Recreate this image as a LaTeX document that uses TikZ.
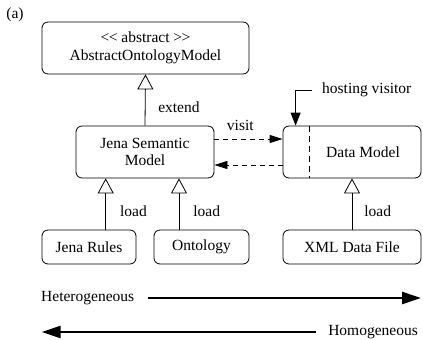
\documentclass[tikz,border=0pt]{standalone}
\usepackage{fontspec}
\setmainfont{Liberation Serif}
\usetikzlibrary{arrows.meta}

\begin{document}
\begin{tikzpicture}[
                x=1pt, y=-1pt,
                every node/.style={font=\fontsize{15.5}{17.7}\selectfont, inner sep=0pt},
                box/.style={draw, rounded corners=6pt, line width=0.8pt, align=center},
                inherit/.style={line width=0.8pt, -{Triangle[open, length=15pt, width=16pt]}},
                call/.style={line width=0.8pt, dash pattern=on 5pt off 4pt, -{Triangle[length=13pt, width=8pt]}},
                host/.style={line width=0.8pt, -{Triangle[length=13pt, width=10pt]}},
                trend/.style={line width=2.6pt, -{Triangle[length=19pt, width=12pt]}}
            ]

            \useasboundingbox (0,0) rectangle (423,340);

            \node (tag) at (15,15) {(a)};

            \node[box, minimum width=207pt, minimum height=52pt] (abstract) at (145.5,48)
                {<\kern-0.5pt< abstract >\kern-0.5pt>\\AbstractOntologyModel};
            \node[box, minimum width=138pt, minimum height=52pt] (jena) at (145,152) {Jena Semantic\\Model};
            \node[box, minimum width=138pt, minimum height=52pt] (data) at (352,152) {};
            \node (datatext) at (363,152) {Data Model};
            \node[box, minimum width=94pt, minimum height=34pt] (rules) at (89,247) {Jena Rules};
            \node[box, minimum width=95pt, minimum height=34pt] (onto) at (201.5,247) {Ontology};
            \node[box, minimum width=138pt, minimum height=34pt] (xml) at (352,247) {XML Data File};

            \coordinate (split) at (309,0);
            \coordinate (rulesx) at (105.7,0);
            \coordinate (ontox) at (179,0);

            \draw[inherit] (jena.north) -- (abstract.south)
                node[pos=0.36, right=12.7pt] {extend};
            \draw[inherit] (rules.north -| rulesx) -- (jena.south -| rulesx)
                node[pos=0.35, right=14pt] {load};
            \draw[inherit] (onto.north -| ontox) -- (jena.south -| ontox)
                node[pos=0.35, right=14pt] {load};
            \draw[inherit] (xml.north) -- (data.south)
                node[pos=0.35, right=12pt] {load};

            \draw[call] ([yshift=13pt]jena.east) -- ([yshift=13pt]data.west)
                node[pos=0.38, above=8pt] {visit};
            \draw[call] ([yshift=-13pt]data.west) -- ([yshift=-13pt]jena.east);

            \draw[line width=0.8pt, dash pattern=on 6pt off 4pt] (data.north -| split) -- (data.south -| split);

            \node[anchor=west] (hosting) at (322,90) {hosting visitor};
            \draw[host] ([xshift=-10pt]hosting.west) -| ([xshift=13pt]data.north west);

            \node[anchor=west] (hetero) at (41,298) {Heterogeneous};
            \coordinate (heteroend) at (421,298);
            \draw[trend] ([xshift=13.7pt]hetero.east) -- (heteroend);

            \node[anchor=east] (homo) at (418,332) {Homogeneous};
            \coordinate (homoend) at (41.7,332);
            \draw[trend] ([xshift=-12pt]homo.west) -- (homoend);

        \end{tikzpicture}
\end{document}
